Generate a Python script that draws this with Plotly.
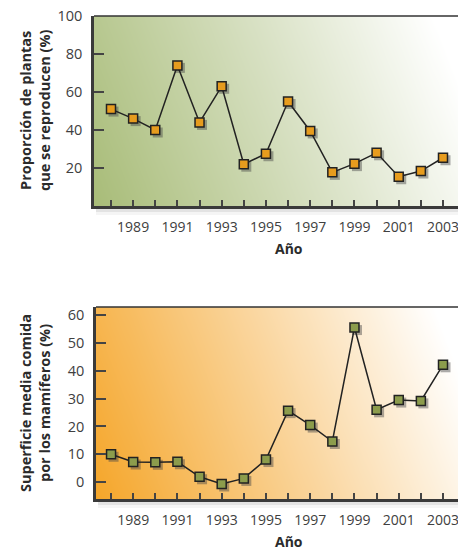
import numpy as np
import plotly.graph_objects as go

# ---------------- data ----------------
years = list(range(1988, 2004))
tick_text = [str(y) if y % 2 == 1 else "" for y in years]
plantas = [51, 46, 40, 74, 44, 63, 22, 27.5, 55, 39.5, 17.7, 22.3, 28, 15.4, 18.4, 25.4]
mamiferos = [10, 7.2, 7.1, 7.3, 1.9, -0.7, 1.3, 8.1, 25.7, 20.5, 14.6, 55.6, 26, 29.5, 29.2, 42.2]
y1_ticks = [20, 40, 60, 80, 100]
y2_ticks = [0, 10, 20, 30, 40, 50, 60]
title_top_y = "Proporción de plantas<br>que se reproducen (%)"
title_bot_y = "Superficie media comida<br>por los mamíferos (%)"
title_x = "Año"

W, H = 458, 550
FONT = "Open Sans"
TXT = "#404040"

# pixel geometry
top_px = dict(x0=94, x1=458, y0=16, y1=206)
bot_px = dict(x0=96, x1=458, y0=307, y1=499)


def dom(p):
    return [p["x0"] / W, p["x1"] / W], [1 - p["y1"] / H, 1 - p["y0"] / H]


x_rng_top = [1987.232, 2003.678]
x_rng_bot = [1987.32, 2003.678]
y_rng_top = [0, 100]
y_rng_bot = [-6.1, 63]

fig = go.Figure()


def blend(c, t):
    c = c.lstrip("#")
    r, g, bb = int(c[0:2], 16), int(c[2:4], 16), int(c[4:6], 16)
    r = int(r + (255 - r) * t)
    g = int(g + (255 - g) * t)
    bb = int(bb + (255 - bb) * t)
    return f"#{r:02x}{g:02x}{bb:02x}"


def gradient(p):
    w = p["x1"] - p["x0"]
    h = p["y1"] - p["y0"]
    gx = np.linspace(0, 1, 90)
    gy = np.linspace(0, 1, 60)
    X, Y = np.meshgrid(gx, gy)
    z = (X * w + 0.39 * Y * h) / 413.0
    return gx, gy, z


def panel(idx, p, xr, yr, ydata, yt, mcolor, bgcolor, ytitle):
    xa = ["x", "x2", "x3"] if idx == 0 else ["x4", "x5", "x6"]
    ya = ["y", "y2", "y3"] if idx == 0 else ["y4", "y5", "y6"]
    xd, yd = dom(p)
    gx, gy, z = gradient(p)
    fig.add_trace(go.Heatmap(x=gx, y=gy, z=z, zmin=0, zmax=1, zsmooth="best",
                             colorscale=[[0, bgcolor], [0.55, blend(bgcolor, 0.55)], [1, "#ffffff"]],
                             showscale=False, hoverinfo="skip", xaxis=xa[0], yaxis=ya[0]))
    w = p["x1"] - p["x0"]
    h = p["y1"] - p["y0"]
    dx = 2.5 * (xr[1] - xr[0]) / w
    dy = 2.5 * (yr[1] - yr[0]) / h
    fig.add_trace(go.Scatter(x=years, y=ydata, mode="markers",
                             marker=dict(symbol="square", size=10, color="rgba(70,70,70,0.45)",
                                         line=dict(width=0)),
                             hoverinfo="skip", xaxis=xa[1], yaxis=ya[1]))
    fig.add_trace(go.Scatter(x=years, y=ydata, mode="lines+markers",
                             line=dict(color="#222222", width=1.5),
                             marker=dict(symbol="square", size=9, color=mcolor,
                                         line=dict(color="#222222", width=1.5)),
                             xaxis=xa[2], yaxis=ya[2]))
    lay = {}
    k = lambda n, a: (n if a in ("x", "y") else n + a[1:])
    lay[k("xaxis", xa[0])] = dict(domain=xd, anchor=ya[0], range=[0, 1], visible=False,
                                  fixedrange=True, automargin=False)
    lay[k("yaxis", ya[0])] = dict(domain=yd, anchor=xa[0], range=[0, 1], visible=False,
                                  fixedrange=True, automargin=False)
    lay[k("xaxis", xa[1])] = dict(overlaying=xa[0], anchor=ya[1], range=[xr[0] - dx, xr[1] - dx],
                                  visible=False, automargin=False)
    lay[k("yaxis", ya[1])] = dict(overlaying=ya[0], anchor=xa[1], range=[yr[0] + dy, yr[1] + dy],
                                  visible=False, automargin=False)
    lay[k("xaxis", xa[2])] = dict(overlaying=xa[0], anchor=ya[2], range=xr, tickmode="array",
                                  tickvals=years, ticktext=tick_text, ticks="inside", ticklen=6,
                                  tickwidth=1.5, tickcolor="#444444", showline=True, linewidth=2.5,
                                  linecolor="#3a3a3a", showgrid=False, zeroline=False,
                                  automargin=False, ticklabeloverflow="allow",
                                  tickfont=dict(family=FONT, size=14, color=TXT), ticklabelstandoff=6)
    lay[k("yaxis", ya[2])] = dict(overlaying=ya[0], anchor=xa[2], range=yr, tickmode="array",
                                  tickvals=yt, ticks="inside", ticklen=10,
                                  tickwidth=1.5, tickcolor="#444444", showline=True, linewidth=2.5,
                                  linecolor="#3a3a3a", showgrid=False, zeroline=False,
                                  automargin=False, ticklabeloverflow="allow",
                                  tickfont=dict(family=FONT, size=14.5, color=TXT), ticklabelstandoff=6)
    fig.update_layout(**lay)
    # top border
    fig.add_shape(type="line", xref="paper", yref="paper", x0=xd[0], x1=1, y0=yd[1], y1=yd[1],
                  line=dict(color="#333333", width=1.5))
    # soft drop shadow below the plot
    for i, op in enumerate([0.10, 0.07, 0.04]):
        fig.add_shape(type="rect", xref="paper", yref="paper", layer="below",
                      x0=xd[0] + 2 / W, x1=1, y0=yd[0] - (3 * (i + 1)) / H, y1=yd[0],
                      line=dict(width=0), fillcolor=f"rgba(0,0,0,{op})")
    # y title
    fig.add_annotation(xref="paper", yref="paper", x=35 / W, y=(yd[0] + yd[1]) / 2,
                       xanchor="center", yanchor="middle",
                       text=f"<b>{ytitle}</b>", textangle=-90, showarrow=False,
                       font=dict(family=FONT, size=14.5, color="#2b2b2b"), align="center")
    # x title
    xt_y = 248 if idx == 0 else 541
    fig.add_annotation(xref="paper", yref="paper", x=289 / W, y=1 - xt_y / H,
                       xanchor="center", yanchor="middle",
                       text=f"<b>{title_x}</b>", showarrow=False,
                       font=dict(family=FONT, size=14, color="#2b2b2b"))


panel(0, top_px, x_rng_top, y_rng_top, plantas, y1_ticks, "#e79c1e", "#a8bc78", title_top_y)
panel(1, bot_px, x_rng_bot, y_rng_bot, mamiferos, y2_ticks, "#8c9c4c", "#f5a62a", title_bot_y)

fig.update_layout(width=W, height=H, margin=dict(l=0, r=0, t=0, b=0, pad=0, autoexpand=False),
                  paper_bgcolor="white", plot_bgcolor="rgba(0,0,0,0)", showlegend=False)

fig.write_html("out.html", config={"displayModeBar": False},
               post_script="document.body.style.margin='0';document.body.style.overflow='hidden';")
